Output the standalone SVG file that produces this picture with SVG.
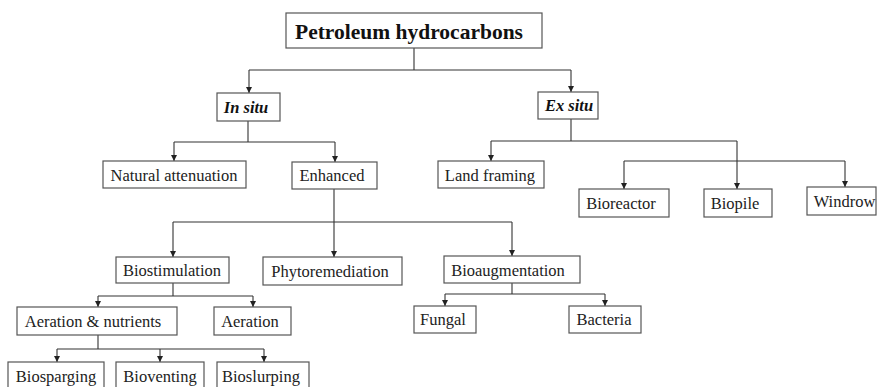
<svg xmlns="http://www.w3.org/2000/svg" width="878" height="387" viewBox="0 0 878 387">
<defs>
<marker id="ah" markerUnits="userSpaceOnUse" markerWidth="6" markerHeight="6" refX="6" refY="3" orient="auto">
<path d="M0,0 L6,3 L0,6 z" fill="#222"/>
</marker>
<style>
rect{fill:#fff;stroke:#555;stroke-width:1.2}
text{font-family:"Liberation Serif","Times New Roman",serif;font-size:16.5px;fill:#222;text-anchor:middle}
.t{font-weight:bold;font-size:21.5px;fill:#111}
.bi{font-weight:bold;font-style:italic;fill:#111}
#connectors path{fill:none;stroke:#333;stroke-width:1.1}
.a{marker-end:url(#ah)}
</style>
</defs>
<rect x="0" y="0" width="878" height="387" style="fill:#fff;stroke:none"/>
<g id="connectors">
<path d="M414,48 V70 M249,70 H571"/>
<path class="a" d="M249,70 V93"/>
<path class="a" d="M571,70 V92"/>
<path d="M248,121 V142 M174,142 H335"/>
<path class="a" d="M174,142 V161"/>
<path class="a" d="M335,142 V162"/>
<path d="M571,119 V141 M491,141 H737 M624,161 H845"/>
<path class="a" d="M491,141 V161"/>
<path class="a" d="M737,141 V189"/>
<path class="a" d="M624,161 V189"/>
<path class="a" d="M845,161 V187"/>
<path d="M334,189 V222 M173,222 H512"/>
<path class="a" d="M173,222 V257"/>
<path class="a" d="M334,222 V257"/>
<path class="a" d="M512,222 V256"/>
<path d="M173,283 V296 M98,296 H253"/>
<path class="a" d="M98,296 V307"/>
<path class="a" d="M253,296 V307"/>
<path d="M98,335 V349 M57,349 H264"/>
<path class="a" d="M57,349 V362"/>
<path class="a" d="M160,349 V362"/>
<path class="a" d="M264,349 V362"/>
<path d="M512,283 V294 M445,294 H605"/>
<path class="a" d="M445,294 V306"/>
<path class="a" d="M605,294 V306"/>
</g>
<g id="petroleum"><rect x="286" y="13" width="256" height="35"/><text class="t" x="409" y="39">Petroleum hydrocarbons</text></g>
<g id="in-situ"><rect x="217" y="93" width="63" height="28"/><text class="bi" x="246" y="113">In situ</text></g>
<g id="ex-situ"><rect x="538" y="92" width="60" height="27"/><text class="bi" x="569" y="111">Ex situ</text></g>
<g id="natural-attenuation"><rect x="103" y="161" width="143" height="27"/><text x="174" y="180.5">Natural attenuation</text></g>
<g id="enhanced"><rect x="292" y="162" width="85" height="27"/><text x="332" y="181">Enhanced</text></g>
<g id="land-framing"><rect x="438" y="161" width="106" height="27"/><text x="490" y="180.5">Land framing</text></g>
<g id="bioreactor"><rect x="579" y="189" width="90" height="28"/><text x="621" y="209">Bioreactor</text></g>
<g id="biopile"><rect x="704" y="189" width="68" height="28"/><text x="735" y="209">Biopile</text></g>
<g id="windrow"><rect x="807" y="187" width="69" height="28"/><text x="844.5" y="207">Windrow</text></g>
<g id="biostimulation"><rect x="116" y="257" width="113" height="26"/><text x="172" y="276">Biostimulation</text></g>
<g id="phytoremediation"><rect x="263" y="257" width="139" height="28"/><text x="330" y="277">Phytoremediation</text></g>
<g id="bioaugmentation"><rect x="444" y="256" width="136" height="27"/><text x="508" y="275.5">Bioaugmentation</text></g>
<g id="aeration-nutrients"><rect x="17" y="307" width="160" height="28"/><text x="93" y="327">Aeration &amp; nutrients</text></g>
<g id="aeration"><rect x="214" y="307" width="77" height="28"/><text x="250" y="327">Aeration</text></g>
<g id="fungal"><rect x="414" y="306" width="62" height="27"/><text x="443" y="325">Fungal</text></g>
<g id="bacteria"><rect x="569" y="306" width="72" height="27"/><text x="604" y="325">Bacteria</text></g>
<g id="biosparging"><rect x="8" y="362" width="96" height="30"/><text x="56" y="382">Biosparging</text></g>
<g id="bioventing"><rect x="116" y="362" width="88" height="30"/><text x="160" y="382">Bioventing</text></g>
<g id="bioslurping"><rect x="217" y="362" width="92" height="30"/><text x="261" y="382">Bioslurping</text></g>
</svg>
